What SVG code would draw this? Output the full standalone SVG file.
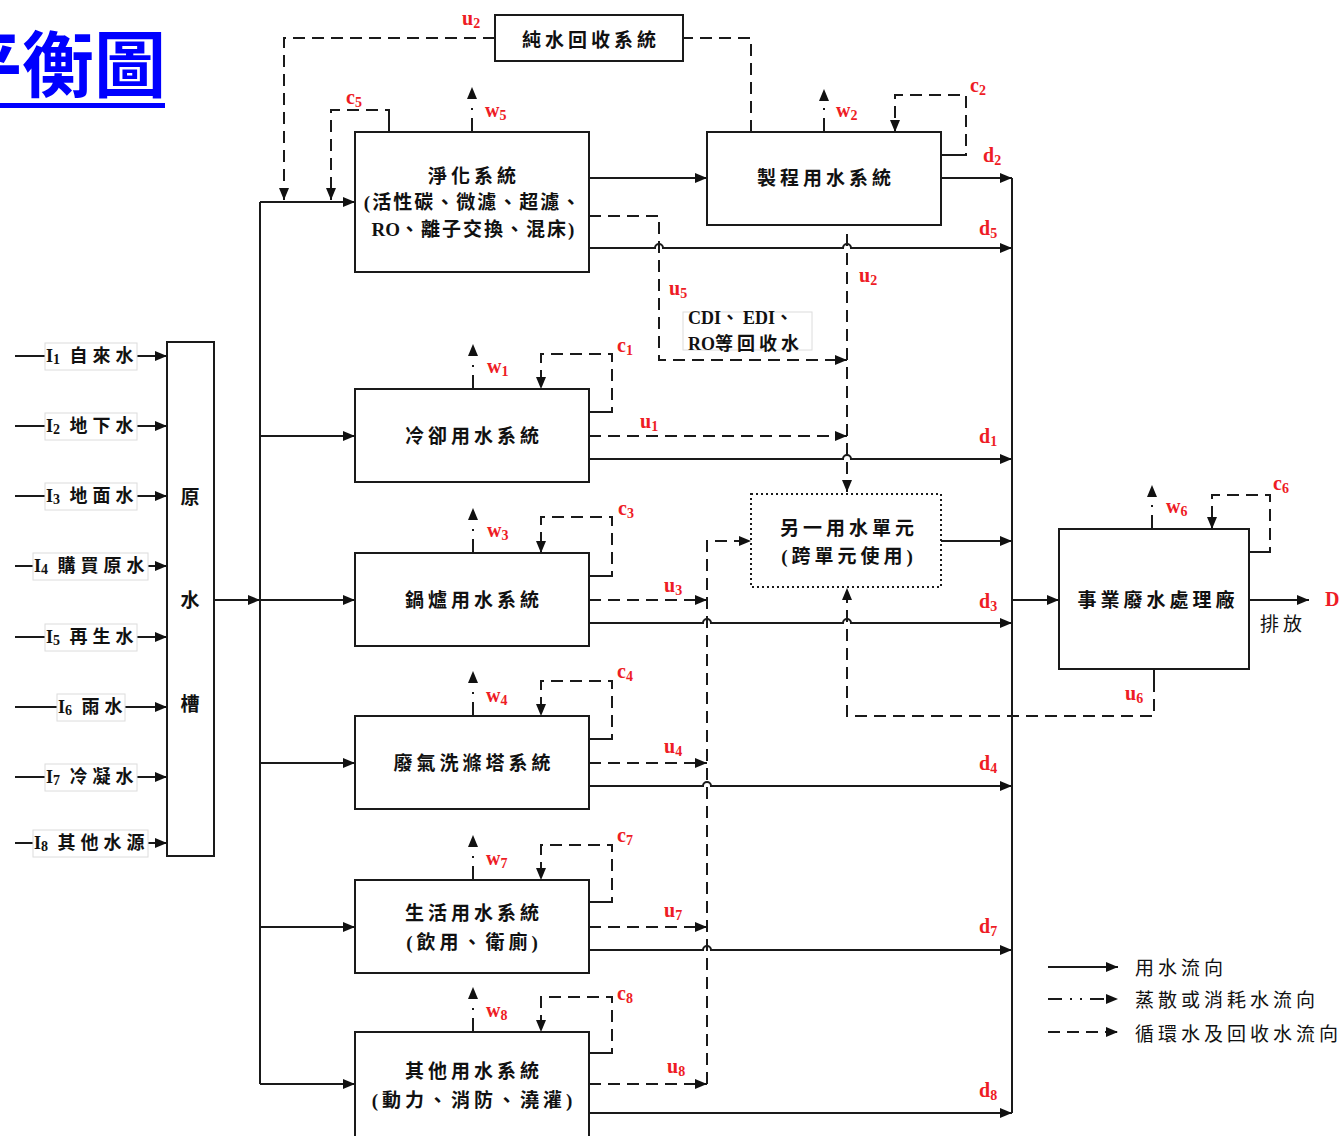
<svg xmlns="http://www.w3.org/2000/svg" width="1341" height="1136" viewBox="0 0 1341 1136">
<defs>
<marker id="a" viewBox="0 0 12 10" refX="12" refY="5" markerWidth="12" markerHeight="10" markerUnits="userSpaceOnUse" orient="auto"><path d="M0 0L12 5L0 10z" fill="#111"/></marker>
<style>
.s{fill:none;stroke:#1a1a1a;stroke-width:2}
.d{fill:none;stroke:#1a1a1a;stroke-width:2;stroke-dasharray:12 7}
.w{fill:none;stroke:#1a1a1a;stroke-width:2;stroke-dasharray:14 8 2 40}
.lw{fill:none;stroke:#1a1a1a;stroke-width:2;stroke-dasharray:14 8 2 8 2 8}
.box{fill:#fff;stroke:#1a1a1a;stroke-width:2}
.dot{fill:#fff;stroke:#1a1a1a;stroke-width:2;stroke-dasharray:2 3}
.lb{fill:#fff;stroke:#dcdcdc;stroke-width:1}
.t{font-family:"Liberation Serif","Noto Sans CJK TC",serif;font-weight:bold;font-size:19px;fill:#111;letter-spacing:4px;text-anchor:middle;dominant-baseline:central}
.t2{letter-spacing:2px}
.li{font-family:"Liberation Serif","Noto Sans CJK TC",serif;font-weight:bold;font-size:18px;fill:#111;letter-spacing:0;dominant-baseline:central}
.cj{letter-spacing:5px}
.lat{letter-spacing:0}
.lg{font-family:"Noto Sans CJK TC",sans-serif;font-size:19px;fill:#111;letter-spacing:4px;dominant-baseline:central}
.r{font-family:"Liberation Serif",serif;font-weight:bold;font-size:20px;fill:#ee1c25}
.sub{font-size:14px}
</style>
</defs>
<rect width="1341" height="1136" fill="#fff"/>

<g id="title">
<text x="-50" y="91" font-family="'Noto Sans CJK TC',sans-serif" font-weight="bold" font-size="72" fill="#0000ff">平衡圖</text>
<rect x="0" y="103" width="165" height="5" fill="#0000ff"/>
</g>

<g id="connectors">
<path class="s" d="M15 356H45M137 356H167" marker-end="url(#a)"/>
<path class="s" d="M15 426H45M137 426H167" marker-end="url(#a)"/>
<path class="s" d="M15 496H45M137 496H167" marker-end="url(#a)"/>
<path class="s" d="M15 566H33M148 566H167" marker-end="url(#a)"/>
<path class="s" d="M15 637H45M137 637H167" marker-end="url(#a)"/>
<path class="s" d="M15 707H57M125 707H167" marker-end="url(#a)"/>
<path class="s" d="M15 777H45M137 777H167" marker-end="url(#a)"/>
<path class="s" d="M15 843H33M148 843H167" marker-end="url(#a)"/>
<path class="s" d="M214 600H260" marker-end="url(#a)"/>
<path class="s" d="M260 202V1084"/>
<path class="s" d="M260 202H355" marker-end="url(#a)"/>
<path class="s" d="M260 436H355" marker-end="url(#a)"/>
<path class="s" d="M260 600H355" marker-end="url(#a)"/>
<path class="s" d="M260 763H355" marker-end="url(#a)"/>
<path class="s" d="M260 927H355" marker-end="url(#a)"/>
<path class="s" d="M260 1084H355" marker-end="url(#a)"/>
<path class="s" d="M589 178H707" marker-end="url(#a)"/>
<path class="s" d="M941 178H1012" marker-end="url(#a)"/>
<path class="s" d="M589 248H655a4 4 0 0 1 8 0H843a4 4 0 0 1 8 0H1012" marker-end="url(#a)"/>
<path class="s" d="M589 459H843a4 4 0 0 1 8 0H1012" marker-end="url(#a)"/>
<path class="s" d="M589 623H703a4 4 0 0 1 8 0H843a4 4 0 0 1 8 0H1012" marker-end="url(#a)"/>
<path class="s" d="M589 786H703a4 4 0 0 1 8 0H1012" marker-end="url(#a)"/>
<path class="s" d="M589 950H703a4 4 0 0 1 8 0H1012" marker-end="url(#a)"/>
<path class="s" d="M589 1113H1012" marker-end="url(#a)"/>
<path class="s" d="M1012 178V1113"/>
<path class="s" d="M941 541H1012" marker-end="url(#a)"/>
<path class="s" d="M1012 600H1059" marker-end="url(#a)"/>
<path class="s" d="M1249 600H1309" marker-end="url(#a)"/>
<path class="s" d="M389 132V118M941 155H956M589 412H605M589 576H605M589 739H605M589 902H605M589 1053H605M1249 552H1263M1154 669V680"/>
<path class="d" d="M389 118V110H331V200" marker-end="url(#a)"/>
<path class="d" d="M956 155H966V95H895V132" marker-end="url(#a)"/>
<path class="d" d="M605 412H612V354H541V389" marker-end="url(#a)"/>
<path class="d" d="M605 576H612V517H541V553" marker-end="url(#a)"/>
<path class="d" d="M605 739H612V681H541V716" marker-end="url(#a)"/>
<path class="d" d="M605 902H612V845H541V880" marker-end="url(#a)"/>
<path class="d" d="M605 1053H612V997H541V1032" marker-end="url(#a)"/>
<path class="d" d="M1263 552H1270V495H1212V529" marker-end="url(#a)"/>
<path class="d" d="M751 132V38H683"/>
<path class="d" d="M495 38H284V200" marker-end="url(#a)"/>
<path class="d" d="M589 216H659V360H847" marker-end="url(#a)"/>
<path class="d" d="M847 234V492" marker-end="url(#a)"/>
<path class="d" d="M589 436H847" marker-end="url(#a)"/>
<path class="d" d="M589 600H707" marker-end="url(#a)"/>
<path class="d" d="M589 763H707" marker-end="url(#a)"/>
<path class="d" d="M589 927H707" marker-end="url(#a)"/>
<path class="d" d="M589 1084H707" marker-end="url(#a)"/>
<path class="d" d="M707 1084V541H751" marker-end="url(#a)"/>
<path class="d" d="M1154 680V716H847V588" marker-end="url(#a)"/>
<path class="w" d="M472 132V87" marker-end="url(#a)"/>
<path class="w" d="M824 132V89" marker-end="url(#a)"/>
<path class="w" d="M473 389V344" marker-end="url(#a)"/>
<path class="w" d="M473 553V508" marker-end="url(#a)"/>
<path class="w" d="M473 716V671" marker-end="url(#a)"/>
<path class="w" d="M473 880V835" marker-end="url(#a)"/>
<path class="w" d="M473 1032V987" marker-end="url(#a)"/>
<path class="w" d="M1152 529V485" marker-end="url(#a)"/>
</g>

<g id="labels">
<text class="r" x="462" y="25">u<tspan class="sub" dy="3">2</tspan></text>
<text class="r" x="346" y="104">c<tspan class="sub" dy="3">5</tspan></text>
<text class="r" x="485" y="117">w<tspan class="sub" dy="3">5</tspan></text>
<text class="r" x="836" y="117">w<tspan class="sub" dy="3">2</tspan></text>
<text class="r" x="970" y="92">c<tspan class="sub" dy="3">2</tspan></text>
<text class="r" x="983" y="162">d<tspan class="sub" dy="3">2</tspan></text>
<text class="r" x="979" y="235">d<tspan class="sub" dy="3">5</tspan></text>
<text class="r" x="859" y="282">u<tspan class="sub" dy="3">2</tspan></text>
<text class="r" x="669" y="295">u<tspan class="sub" dy="3">5</tspan></text>
<text class="r" x="617" y="352">c<tspan class="sub" dy="3">1</tspan></text>
<text class="r" x="487" y="373">w<tspan class="sub" dy="3">1</tspan></text>
<text class="r" x="640" y="428">u<tspan class="sub" dy="3">1</tspan></text>
<text class="r" x="979" y="443">d<tspan class="sub" dy="3">1</tspan></text>
<text class="r" x="618" y="515">c<tspan class="sub" dy="3">3</tspan></text>
<text class="r" x="487" y="537">w<tspan class="sub" dy="3">3</tspan></text>
<text class="r" x="1166" y="513">w<tspan class="sub" dy="3">6</tspan></text>
<text class="r" x="1273" y="490">c<tspan class="sub" dy="3">6</tspan></text>
<text class="r" x="664" y="592">u<tspan class="sub" dy="3">3</tspan></text>
<text class="r" x="979" y="608">d<tspan class="sub" dy="3">3</tspan></text>
<text class="r" x="1325" y="606">D</text>
<text class="r" x="1125" y="700">u<tspan class="sub" dy="3">6</tspan></text>
<text class="r" x="617" y="678">c<tspan class="sub" dy="3">4</tspan></text>
<text class="r" x="486" y="702">w<tspan class="sub" dy="3">4</tspan></text>
<text class="r" x="664" y="753">u<tspan class="sub" dy="3">4</tspan></text>
<text class="r" x="979" y="770">d<tspan class="sub" dy="3">4</tspan></text>
<text class="r" x="617" y="842">c<tspan class="sub" dy="3">7</tspan></text>
<text class="r" x="486" y="865">w<tspan class="sub" dy="3">7</tspan></text>
<text class="r" x="664" y="917">u<tspan class="sub" dy="3">7</tspan></text>
<text class="r" x="979" y="933">d<tspan class="sub" dy="3">7</tspan></text>
<text class="r" x="617" y="1000">c<tspan class="sub" dy="3">8</tspan></text>
<text class="r" x="486" y="1017">w<tspan class="sub" dy="3">8</tspan></text>
<text class="r" x="667" y="1073">u<tspan class="sub" dy="3">8</tspan></text>
<text class="r" x="979" y="1097">d<tspan class="sub" dy="3">8</tspan></text>
<text class="lg" x="1260" y="622" letter-spacing="3">排放</text>
</g>

<g id="inputs">
<g id="I1"><rect class="lb" x="45" y="343" width="92" height="27"/><text class="li" x="46" y="356">I<tspan class="sub" dy="3">1</tspan><tspan class="cj" dy="-3"> 自來水</tspan></text></g>
<g id="I2"><rect class="lb" x="45" y="413" width="92" height="27"/><text class="li" x="46" y="426">I<tspan class="sub" dy="3">2</tspan><tspan class="cj" dy="-3"> 地下水</tspan></text></g>
<g id="I3"><rect class="lb" x="45" y="483" width="92" height="27"/><text class="li" x="46" y="496">I<tspan class="sub" dy="3">3</tspan><tspan class="cj" dy="-3"> 地面水</tspan></text></g>
<g id="I4"><rect class="lb" x="33" y="553" width="115" height="27"/><text class="li" x="34" y="566">I<tspan class="sub" dy="3">4</tspan><tspan class="cj" dy="-3"> 購買原水</tspan></text></g>
<g id="I5"><rect class="lb" x="45" y="624" width="92" height="27"/><text class="li" x="46" y="637">I<tspan class="sub" dy="3">5</tspan><tspan class="cj" dy="-3"> 再生水</tspan></text></g>
<g id="I6"><rect class="lb" x="57" y="694" width="68" height="27"/><text class="li" x="58" y="707">I<tspan class="sub" dy="3">6</tspan><tspan class="cj" dy="-3"> 雨水</tspan></text></g>
<g id="I7"><rect class="lb" x="45" y="764" width="92" height="27"/><text class="li" x="46" y="777">I<tspan class="sub" dy="3">7</tspan><tspan class="cj" dy="-3"> 冷凝水</tspan></text></g>
<g id="I8"><rect class="lb" x="33" y="830" width="115" height="27"/><text class="li" x="34" y="843">I<tspan class="sub" dy="3">8</tspan><tspan class="cj" dy="-3"> 其他水源</tspan></text></g>
</g>

<g id="tank"><rect class="box" x="167" y="342" width="47" height="514"/>
<text class="t" x="192" y="497">原</text><text class="t" x="192" y="600">水</text><text class="t" x="192" y="704">槽</text></g>

<g id="purify"><rect class="box" x="355" y="132" width="234" height="140"/>
<text class="t" x="474" y="176">淨化系統</text>
<text class="t t2" x="473" y="202">(活性碳、微濾、超濾、</text>
<text class="t t2" x="474" y="229"><tspan class="lat">RO</tspan>、離子交換、混床)</text></g>

<g id="purewater"><rect class="box" x="495" y="15" width="188" height="46"/><text class="t" x="591" y="40">純水回收系統</text></g>

<g id="process"><rect class="box" x="707" y="132" width="234" height="93"/><text class="t" x="826" y="178">製程用水系統</text></g>

<g id="cdi"><rect class="lb" x="683" y="312" width="129" height="38"/>
<text class="li" x="688" y="318" font-size="19" letter-spacing="1">CDI<tspan letter-spacing="4">、</tspan>EDI<tspan letter-spacing="4">、</tspan></text>
<text class="li" x="688" y="344" font-size="19">RO<tspan letter-spacing="4">等回收水</tspan></text></g>

<g id="cooling"><rect class="box" x="355" y="389" width="234" height="93"/><text class="t" x="474" y="436">冷卻用水系統</text></g>

<g id="boiler"><rect class="box" x="355" y="553" width="234" height="93"/><text class="t" x="474" y="600">鍋爐用水系統</text></g>

<g id="scrubber"><rect class="box" x="355" y="716" width="234" height="93"/><text class="t" x="474" y="763">廢氣洗滌塔系統</text></g>

<g id="domestic"><rect class="box" x="355" y="880" width="234" height="93"/>
<text class="t" x="474" y="913">生活用水系統</text><text class="t" x="474" y="942">(飲用、衛廁)</text></g>

<g id="other"><rect class="box" x="355" y="1032" width="234" height="110"/>
<text class="t" x="474" y="1071">其他用水系統</text><text class="t" x="474" y="1100">(動力、消防、澆灌)</text></g>

<g id="another"><rect class="dot" x="751" y="494" width="190" height="93"/>
<text class="t" x="849" y="528">另一用水單元</text><text class="t" x="849" y="556">(跨單元使用)</text></g>

<g id="wwtp"><rect class="box" x="1059" y="529" width="190" height="140"/><text class="t" x="1158" y="600">事業廢水處理廠</text></g>

<g id="legend">
<path class="s" d="M1048 967H1118" marker-end="url(#a)"/>
<path class="lw" d="M1048 999H1118" marker-end="url(#a)"/>
<path class="d" d="M1048 1032H1118" marker-end="url(#a)"/>
<text class="lg" x="1135" y="966">用水流向</text>
<text class="lg" x="1135" y="998">蒸散或消耗水流向</text>
<text class="lg" x="1135" y="1032">循環水及回收水流向</text>
</g>
</svg>
